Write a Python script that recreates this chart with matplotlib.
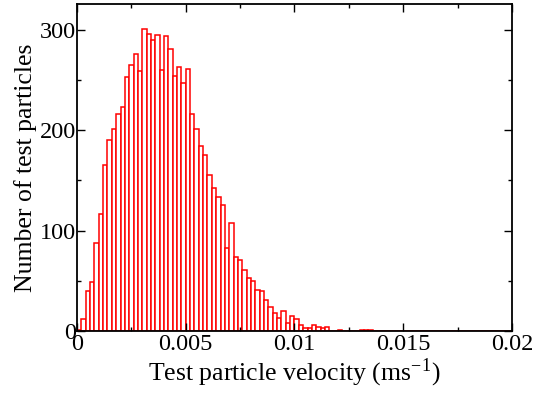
import numpy as np
import matplotlib
matplotlib.use("Agg")
import matplotlib.pyplot as plt
from matplotlib.ticker import MultipleLocator

# histogram of test particle velocities, 100 bins of 0.0002 between 0 and 0.02
bin_width = 0.0002
counts = [
    1, 12, 40, 49, 88, 117, 165, 190, 201, 216,
    223, 253, 265, 276, 259, 301, 296, 290, 295, 260,
    294, 281, 254, 263, 247, 261, 216, 201, 184, 175,
    155, 142, 134, 126, 83, 108, 74, 71, 61, 53,
    50, 41, 40, 31, 24, 18, 13, 20, 8, 15,
    12, 6, 3, 3, 6, 4, 3, 4, 0, 0,
    1, 0, 0, 0, 0, 1, 1, 1, 0, 0,
] + [0] * 30
bin_left = np.arange(len(counts)) * bin_width

plt.rcParams['font.family'] = ['Liberation Serif', 'DejaVu Serif']
plt.rcParams['mathtext.fontset'] = 'stix'

fig = plt.figure(figsize=(5.33, 3.94), dpi=100)
ax = fig.add_axes([0.1445, 0.16, 0.816, 0.8287])

ax.bar(bin_left, counts, width=bin_width, align='edge',
       facecolor='white', edgecolor='red', linewidth=1.1)

ax.set_xlim(0, 0.02)
ax.set_ylim(0, 325.4)

ax.xaxis.set_minor_locator(MultipleLocator(0.0025))
ax.yaxis.set_major_locator(MultipleLocator(100))
ax.yaxis.set_minor_locator(MultipleLocator(50))
ax.set_xticks([0, 0.005, 0.01, 0.015, 0.02])
ax.set_xticklabels(['0', '0.005', '0.01', '0.015', '0.02'])

ax.tick_params(which='both', direction='in', top=True, right=True,
               labelsize=17.5, width=1.0)
ax.tick_params(axis='y', pad=1)
ax.tick_params(axis='x', pad=2)
ax.tick_params(which='major', length=6)
ax.tick_params(which='minor', length=3)
for s in ax.spines.values():
    s.set_linewidth(1.3)

ax.set_xlabel('Test particle velocity (ms$^{\\mathregular{-1}}$)', fontsize=18.5, labelpad=1)
ax.set_ylabel('Number of test particles', fontsize=18.5, labelpad=2)

fig.savefig('out.png', dpi=100)
